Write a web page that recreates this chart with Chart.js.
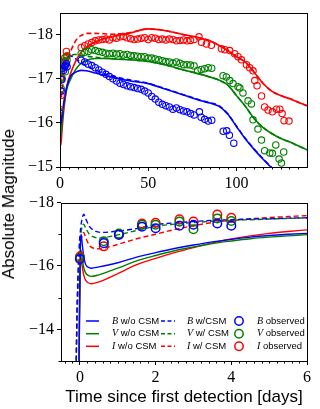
<!DOCTYPE html>
<html>
<head>
<meta charset="utf-8">
<script src="https://cdn.jsdelivr.net/npm/chart.js@4.4.1/dist/chart.umd.min.js"></script>
<style>
  body { margin: 0; width: 320px; height: 409px; background: #fff; position: relative; overflow: hidden; }
  .panel { position: absolute; left: 0; width: 320px; }
  #ylab { position: absolute; left: 9px; top: 204px; transform: translate(-50%, -50%) rotate(-90deg);
          font: 17px "Liberation Sans", sans-serif; white-space: nowrap; color: #000; }
</style>
</head>
<body>
<div class="panel" style="top:0;height:190px"><canvas id="topChart"></canvas></div>
<div class="panel" style="top:190px;height:219px"><canvas id="bottomChart"></canvas></div>
<div id="ylab">Absolute Magnitude</div>
<script>
// ---- tick labels ----
const topXTicks = [0, 50, 100];
const topYTicks = [-18, -17, -16, -15];
const botXTicks = [0, 2, 4, 6];
const botYTicks = [-18, -16, -14];

// ---- top panel: model light curves (days since first detection) ----
const topModelT = [0, 0.1, 0.5, 1, 2, 3, 4, 6, 8, 10, 12, 15, 20, 25, 30, 40, 50, 60, 70, 80, 85, 90, 95, 100, 105, 110, 115, 120, 125, 130, 135, 140];
const topB_noCSM = [-14.5, -16.3, -15.97, -16.1, -16.42, -16.66, -16.84, -17.06, -17.13, -17.17, -17.19, -17.18, -17.13, -17.08, -17.03, -16.95, -16.89, -16.76, -16.63, -16.5, -16.45, -16.38, -16.2, -15.92, -15.64, -15.4, -15.18, -14.98, -14.8, -14.6, -14.4, -14.2];
const topB_CSM = [-14.5, -17.63, -17.06, -17.1, -17.3, -17.4, -17.46, -17.52, -17.48, -17.42, -17.36, -17.29, -17.2, -17.12, -17.06, -16.97, -16.9, -16.77, -16.64, -16.51, -16.46, -16.39, -16.21, -15.93, -15.65, -15.41, -15.19, -14.99, -14.8, -14.6, -14.4, -14.2];
const topV_noCSM = [-14.5, -15.95, -15.72, -15.93, -16.33, -16.6, -16.79, -16.99, -17.15, -17.27, -17.35, -17.42, -17.46, -17.46, -17.45, -17.43, -17.39, -17.31, -17.2, -17.1, -17.04, -16.97, -16.86, -16.62, -16.38, -16.1, -15.9, -15.76, -15.65, -15.57, -15.48, -15.39];
const topV_CSM = [-14.5, -17.32, -16.88, -16.98, -17.25, -17.37, -17.44, -17.52, -17.55, -17.55, -17.53, -17.51, -17.49, -17.47, -17.46, -17.43, -17.39, -17.31, -17.2, -17.1, -17.04, -16.97, -16.86, -16.62, -16.38, -16.1, -15.9, -15.76, -15.65, -15.57, -15.48, -15.39];
const topI_noCSM = [-14.0, -15.72, -15.5, -15.76, -16.24, -16.58, -16.85, -17.12, -17.32, -17.48, -17.6, -17.72, -17.84, -17.91, -17.96, -18.04, -18.13, -18.09, -18.0, -17.92, -17.86, -17.76, -17.64, -17.5, -17.38, -17.15, -16.9, -16.72, -16.62, -16.55, -16.47, -16.39];
const topI_CSM = [-14.0, -17.06, -16.54, -16.68, -17.0, -17.27, -17.44, -17.62, -17.8, -17.92, -17.98, -18.03, -18.03, -18.02, -18.01, -18.05, -18.13, -18.09, -18.0, -17.92, -17.86, -17.76, -17.64, -17.5, -17.38, -17.15, -16.9, -16.72, -16.62, -16.55, -16.47, -16.39];

// ---- observed photometry, first days (both panels) ----
const obsEarlyT = [0.0, 0.63, 1.03, 1.64, 2.0, 2.63, 3.0, 3.63, 4.0];
const obsEarlyB = [-16.22, -16.72, -16.98, -17.24, -17.19, -17.27, -17.3, -17.34, -17.27];
const obsEarlyV = [-16.25, -16.78, -17.02, -17.3, -17.3, -17.4, -17.16, -17.5, -17.42];
const obsEarlyI = [-16.3, -16.62, -17.0, -17.34, -17.36, -17.47, -17.4, -17.62, -17.52];

// ---- observed photometry, later epochs (top panel) ----
const lateB_T = [12, 14, 16, 18, 20, 22, 24, 26, 28, 30, 32, 34, 36, 38, 40, 42, 44, 46, 48, 50, 52, 54, 56, 58, 60, 62, 64, 66, 68, 70, 72, 74, 76, 79, 80, 82, 84, 86, 92.5, 94.5, 96, 98.5];
const lateB_M = [-17.42, -17.38, -17.33, -17.3, -17.25, -17.2, -17.15, -17.1, -17.05, -17.0, -16.95, -16.9, -16.87, -16.84, -16.82, -16.8, -16.78, -16.76, -16.72, -16.68, -16.6, -16.54, -16.47, -16.42, -16.39, -16.36, -16.31, -16.34, -16.3, -16.27, -16.25, -16.21, -16.18, -16.25, -16.13, -16.08, -16.04, -16.06, -15.81, -15.82, -15.72, -15.54];
const lateV_T = [12, 14, 16, 18, 20, 22, 24, 26, 28, 30, 32, 34, 36, 38, 40, 42, 44, 46, 48, 50, 52, 54, 56, 58, 60, 62, 64, 66, 68, 70, 72, 74, 76, 78, 80, 82, 84, 86, 92.4, 94.3, 96.2, 98.1, 100.9, 101.9, 103.7, 106.6, 108.5, 109.4, 112.2, 114.2, 116, 118.9, 120.4, 122.3, 124.2, 125.5, 126.8];
const lateV_M = [-17.57, -17.6, -17.62, -17.66, -17.64, -17.62, -17.6, -17.58, -17.57, -17.58, -17.56, -17.57, -17.54, -17.55, -17.53, -17.52, -17.51, -17.5, -17.5, -17.47, -17.47, -17.45, -17.43, -17.41, -17.39, -17.38, -17.36, -17.38, -17.35, -17.32, -17.32, -17.31, -17.29, -17.19, -17.21, -17.23, -17.25, -17.24, -17.07, -17.04, -16.96, -16.89, -16.82, -16.79, -16.68, -16.5, -16.43, -16.07, -15.86, -15.61, -15.37, -15.32, -15.31, -15.5, -15.18, -15.09, -15.34];
const lateI_T = [12, 14, 16, 18, 20, 22, 24, 26, 28, 30, 32, 34, 36, 38, 40, 42, 44, 46, 48, 50, 52, 54, 56, 58, 60, 62, 64, 66, 68, 70, 72, 74, 76, 78.8, 80.2, 83, 85.8, 91.5, 93.4, 96.2, 99, 100.9, 102.8, 105.7, 107.5, 109.4, 110.4, 111.7, 114.2, 116, 117.9, 120.4, 122.7, 124.6, 125.9, 127, 129.8];
const lateI_M = [-17.71, -17.75, -17.79, -17.82, -17.86, -17.88, -17.89, -17.9, -17.88, -17.93, -17.92, -17.95, -17.96, -17.93, -17.91, -17.89, -17.9, -17.92, -17.93, -17.89, -17.93, -17.92, -17.89, -17.9, -17.88, -17.9, -17.89, -17.86, -17.87, -17.88, -17.86, -17.87, -17.89, -17.95, -17.83, -17.79, -17.76, -17.68, -17.66, -17.64, -17.57, -17.5, -17.43, -17.32, -17.25, -17.18, -16.96, -16.84, -16.61, -16.36, -16.29, -16.25, -16.31, -16.31, -16.21, -16.05, -16.04];

// ---- bottom panel: early model curves ----
const botSolidT = [-0.03, -0.01, 0.01, 0.03, 0.06, 0.1, 0.15, 0.22, 0.3, 0.5, 0.75, 1.0, 1.5, 2.0, 2.5, 3.0, 3.5, 4.0, 4.5, 5.0, 5.5, 6.0];
const botB_noCSM = [-12, -15, -16.6, -17.0, -16.7, -16.3, -16.05, -15.96, -15.93, -15.97, -16.03, -16.1, -16.28, -16.42, -16.55, -16.66, -16.76, -16.84, -16.91, -16.96, -17.0, -17.03];
const botV_noCSM = [-12, -14.5, -16.1, -16.5, -16.25, -15.95, -15.78, -15.7, -15.67, -15.72, -15.82, -15.93, -16.16, -16.33, -16.48, -16.6, -16.71, -16.79, -16.86, -16.91, -16.95, -16.99];
const botI_noCSM = [-12, -14.3, -15.9, -16.25, -16.0, -15.72, -15.55, -15.47, -15.44, -15.5, -15.62, -15.76, -16.04, -16.24, -16.42, -16.58, -16.73, -16.85, -16.95, -17.03, -17.09, -17.14];
const botDashT = [-0.11, -0.08, -0.05, -0.02, 0.02, 0.06, 0.1, 0.15, 0.25, 0.4, 0.55, 0.75, 1.0, 1.5, 2.0, 2.5, 3.0, 3.5, 4.0, 4.5, 5.0, 5.5, 6.0];
const botB_CSM = [-12, -14.5, -15.8, -16.6, -17.2, -17.5, -17.63, -17.5, -17.25, -17.1, -17.06, -17.07, -17.1, -17.18, -17.3, -17.36, -17.4, -17.44, -17.46, -17.48, -17.49, -17.51, -17.52];
const botV_CSM = [-12, -14.2, -15.5, -16.3, -16.95, -17.25, -17.32, -17.2, -17.0, -16.9, -16.88, -16.92, -16.98, -17.12, -17.25, -17.32, -17.37, -17.41, -17.44, -17.46, -17.48, -17.5, -17.52];
const botI_CSM = [-12, -14, -15.3, -16.0, -16.7, -16.98, -17.06, -16.9, -16.65, -16.55, -16.54, -16.6, -16.68, -16.86, -17.0, -17.15, -17.27, -17.37, -17.44, -17.49, -17.53, -17.56, -17.59];

const BLUE = '#0000ff', GREEN = '#008000', RED = '#ff0000';

Chart.defaults.font.family = '"Liberation Serif", serif';
Chart.defaults.color = '#000';

function pts(xs, ys) { return xs.map((x, i) => ({ x: x, y: ys[i] })); }

function model(label, xs, ys, color, dashed, lw) {
  return {
    label: label, data: pts(xs, ys), borderColor: color, borderWidth: lw,
    borderDash: dashed ? [5, 3] : [], pointRadius: 0, pointHoverRadius: 0,
    fill: false, cubicInterpolationMode: 'monotone', order: 1
  };
}

function observed(label, xs, ys, color, r, lw) {
  return {
    label: label, data: pts(xs, ys), showLine: false, borderColor: color,
    backgroundColor: 'rgba(0,0,0,0)', pointBorderColor: color, pointBackgroundColor: 'rgba(0,0,0,0)',
    pointRadius: r, pointBorderWidth: lw, pointHoverRadius: r, order: 0
  };
}

const minus = v => String(v).replace('-', '\u2212');

function axis(min, max, major, reverse, fit) {
  return {
    type: 'linear', min: min, max: max, reverse: reverse,
    afterBuildTicks: s => { s.ticks = major.map(v => ({ value: v })); },
    afterFit: fit,
    grid: { display: true, drawOnChartArea: false, drawTicks: true, tickLength: 4, color: '#000', lineWidth: 1 },
    border: { display: false },
    ticks: { callback: minus, padding: 3, maxRotation: 0, autoSkip: false, font: { size: 16 }, color: '#000' }
  };
}

// black box round the plot area plus short minor ticks
function framePlugin(minorX, minorY) {
  return {
    id: 'frame',
    afterDraw(chart) {
      const { ctx, chartArea: a, scales } = chart;
      ctx.save();
      ctx.strokeStyle = '#000';
      ctx.lineWidth = 1;
      ctx.beginPath();
      minorX.forEach(v => {
        const px = Math.round(scales.x.getPixelForValue(v)) + 0.5;
        ctx.moveTo(px, a.bottom); ctx.lineTo(px, a.bottom + 2.5);
      });
      minorY.forEach(v => {
        const py = Math.round(scales.y.getPixelForValue(v)) + 0.5;
        ctx.moveTo(a.left, py); ctx.lineTo(a.left - 2.5, py);
      });
      ctx.stroke();
      ctx.strokeRect(Math.round(a.left) + 0.5, Math.round(a.top) + 0.5,
        Math.round(a.right - a.left), Math.round(a.bottom - a.top));
      ctx.restore();
    }
  };
}

// three-column legend inside the lower panel
const legendPlugin = {
  id: 'bandLegend',
  afterDraw(chart) {
    const ctx = chart.ctx;
    const cols = [{ l0: 86, l1: 99, tx: 112 }, { l0: 161, l1: 175, tx: 187 }, { mk: 239, tx: 257 }];
    const rows = [131, 143.7, 156.3];
    ctx.save();
    chart.data.datasets.forEach((ds, i) => {
      const c = cols[Math.floor(i / 3)], y = rows[i % 3];
      ctx.strokeStyle = ds.borderColor;
      if (c.mk) {
        ctx.lineWidth = 1.5;
        ctx.setLineDash([]);
        ctx.beginPath(); ctx.arc(c.mk, y, 4.2, 0, Math.PI * 2); ctx.stroke();
      } else {
        ctx.lineWidth = 1.5;
        ctx.setLineDash(ds.borderDash.length ? [4, 2.5] : []);
        ctx.beginPath(); ctx.moveTo(c.l0, y); ctx.lineTo(c.l1, y); ctx.stroke();
      }
      ctx.setLineDash([]);
      ctx.fillStyle = '#000';
      ctx.textBaseline = 'middle';
      ctx.textAlign = 'left';
      ctx.font = 'italic 10px "Liberation Serif"';
      const letter = ds.label.charAt(0);
      ctx.fillText(letter, c.tx, y);
      const w = ctx.measureText(letter).width;
      ctx.font = '9.5px "Liberation Sans"';
      ctx.fillText(ds.label.slice(1), c.tx + w, y);
    });
    ctx.restore();
  }
};

const topMinorX = [];
for (let v = 5; v < 140; v += 5) if (v % 50 !== 0) topMinorX.push(v);

new Chart(document.getElementById('topChart'), {
  type: 'line',
  data: {
    datasets: [
      model('B w/o CSM', topModelT, topB_noCSM, BLUE, false, 1.6),
      model('V w/o CSM', topModelT, topV_noCSM, GREEN, false, 1.6),
      model('I w/o CSM', topModelT, topI_noCSM, RED, false, 1.6),
      model('B w/CSM', topModelT, topB_CSM, BLUE, true, 1.6),
      model('V w/ CSM', topModelT, topV_CSM, GREEN, true, 1.6),
      model('I w/ CSM', topModelT, topI_CSM, RED, true, 1.6),
      observed('B observed', obsEarlyT.concat(lateB_T), obsEarlyB.concat(lateB_M), BLUE, 3.2, 1.1),
      observed('V observed', obsEarlyT.concat(lateV_T), obsEarlyV.concat(lateV_M), GREEN, 3.2, 1.1),
      observed('I observed', obsEarlyT.concat(lateI_T), obsEarlyI.concat(lateI_M), RED, 3.2, 1.1)
    ]
  },
  options: {
    responsive: true, maintainAspectRatio: false, animation: false, devicePixelRatio: 1,
    layout: { padding: { left: 0, right: 13, top: 5, bottom: 0 } },
    plugins: { legend: { display: false }, tooltip: { enabled: false } },
    scales: {
      x: axis(0, 140, topXTicks, false, s => { s.height = 23; }),
      y: axis(-18.5, -15, topYTicks, true, s => { s.width = 60; })
    }
  },
  plugins: [framePlugin(topMinorX, [])]
});

const botMinorX = [];
for (let k = -2; k <= 30; k++) if (k % 10 !== 0) botMinorX.push(k / 5);
const botMinorY = [-17, -15, -13];

const botX = axis(-0.5, 6, botXTicks, false, s => { s.height = 48; });
botX.title = { display: true, text: 'Time since first detection [days]', padding: { top: 0, bottom: 3 },
  font: { family: '"Liberation Sans", sans-serif', size: 17, lineHeight: 1 }, color: '#000' };

new Chart(document.getElementById('bottomChart'), {
  type: 'line',
  data: {
    datasets: [
      model('B w/o CSM', botSolidT, botB_noCSM, BLUE, false, 1.4),
      model('V w/o CSM', botSolidT, botV_noCSM, GREEN, false, 1.4),
      model('I w/o CSM', botSolidT, botI_noCSM, RED, false, 1.4),
      model('B w/CSM', botDashT, botB_CSM, BLUE, true, 1.4),
      model('V w/ CSM', botDashT, botV_CSM, GREEN, true, 1.4),
      model('I w/ CSM', botDashT, botI_CSM, RED, true, 1.4),
      observed('B observed', obsEarlyT, obsEarlyB, BLUE, 4.3, 1.5),
      observed('V observed', obsEarlyT, obsEarlyV, GREEN, 4.3, 1.5),
      observed('I observed', obsEarlyT, obsEarlyI, RED, 4.3, 1.5)
    ]
  },
  options: {
    responsive: true, maintainAspectRatio: false, animation: false, devicePixelRatio: 1,
    layout: { padding: { left: 0, right: 13, top: 10, bottom: 0 } },
    plugins: { legend: { display: false }, tooltip: { enabled: false } },
    scales: {
      x: botX,
      y: axis(-18, -13, botYTicks, true, s => { s.width = 61; })
    }
  },
  plugins: [framePlugin(botMinorX, botMinorY), legendPlugin]
});
</script>
</body>
</html>
